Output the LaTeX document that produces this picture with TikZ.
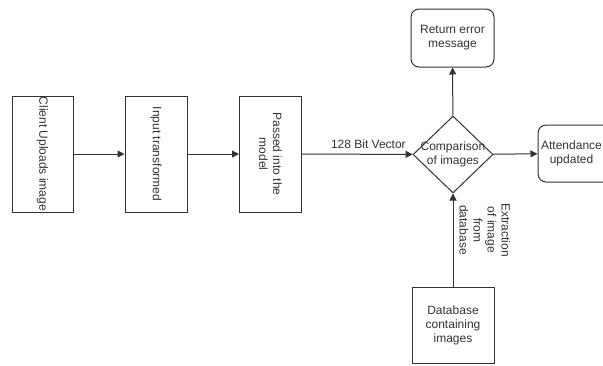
\documentclass[tikz,border=0pt]{standalone}
\usepackage{fontspec}
\setmainfont{Liberation Sans}
\usetikzlibrary{shapes.geometric,arrows.meta}
\definecolor{ink}{HTML}{333333}
\tikzset{
  box/.style={draw=ink, line width=1pt, inner sep=0pt},
  rbox/.style={box, rounded corners=8pt},
  lbl/.style={text=ink, font=\fontsize{12}{14}\selectfont, align=center, inner sep=0pt},
  arr/.style={draw=ink, line width=1pt, -{Triangle[length=7pt,width=7pt]}},
}
\begin{document}
\begin{tikzpicture}[x=1pt,y=-1pt]
\useasboundingbox (0,0) rectangle (603,365);
\clip (0,0) rectangle (603,365);
% boxes
\node[box, minimum width=61pt, minimum height=116pt] (b1) at (42.5,154) {};
\node[lbl, rotate=-90] (t1) at (b1) {Client Uploads image};
\node[box, minimum width=62pt, minimum height=116pt] (b2) at (156,154) {};
\node[lbl, rotate=-90] (t2) at (b2) {Input transformed};
\node[box, minimum width=62pt, minimum height=116pt] (b3) at (270.5,154) {};
\node[lbl, rotate=-90] (t3) at (b3) {Passed into the\\model};
\node[draw=ink, line width=1pt, diamond, minimum width=80pt, minimum height=77pt, inner sep=0pt] (d) at (453,154.5) {};
\node[lbl] (dt) at (d) {Comparison\\of images};
\node[rbox, minimum width=83pt, minimum height=58pt] (err) at (452.5,38) {};
\node[lbl] (errt) at (err) {Return error\\message};
\node[rbox, minimum width=74pt, minimum height=57pt] (att) at (575,153.5) {};
\node[lbl] (attt) at (571.5,153.5) {Attendance\\updated};
\node[box, minimum width=82pt, minimum height=76pt] (db) at (453,325) {};
\node[lbl] (dbt) at (db) {Database\\containing\\images};
% connectors
\draw[arr] (b1) -- (b2);
\draw[arr] (b2) -- (b3);
\draw[arr] (b3) -- node[lbl, above=5pt, pos=0.6] (l1) {128 Bit Vector} (d);
\draw[arr] (d) -- (err);
\draw[arr] (d) -- (att);
\draw[arr] (db) -- (d);
\node[lbl, rotate=-90] (l2) at (485,230) {Extraction\\of image\\from\\database};
\end{tikzpicture}
\end{document}
